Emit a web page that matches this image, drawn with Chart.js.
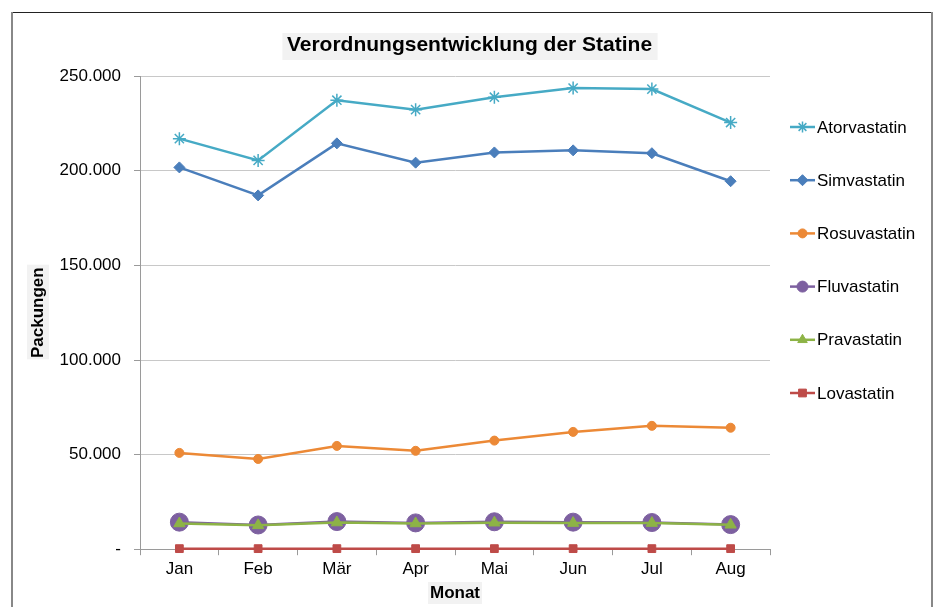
<!DOCTYPE html>
<html>
<head>
<meta charset="utf-8">
<script src="https://cdn.jsdelivr.net/npm/chart.js@4"></script>
<style>
  html, body { margin: 0; padding: 0; background: #fff; }
  #wrap { width: 939px; height: 607px; }
</style>
</head>
<body>
<div id="wrap"><canvas id="statine" width="939" height="607"></canvas></div>
<script>
const months = ['Jan', 'Feb', 'Mär', 'Apr', 'Mai', 'Jun', 'Jul', 'Aug'];
const atorvastatin = [217000, 205500, 237300, 232300, 238900, 243700, 243200, 225500];
const simvastatin = [201800, 187000, 214500, 204300, 209700, 210800, 209300, 194500];
const rosuvastatin = [50900, 47700, 54600, 52000, 57400, 62000, 65200, 64200];
const fluvastatin = [14300, 12800, 14600, 13900, 14500, 14300, 14100, 13000];
const pravastatin = [13600, 12600, 14100, 13600, 14000, 13800, 13800, 12900];
const lovastatin = [300, 300, 300, 300, 300, 300, 300, 300];
const yTicks = [0, 50000, 100000, 150000, 200000, 250000];
const yTickLabels = ['-', '50.000', '100.000', '150.000', '200.000', '250.000'];

const FONT = 'Arial, "Liberation Sans", sans-serif';

function series(label, data, color, style, radius, order) {
    return {
        label: label,
        data: data,
        borderColor: color,
        backgroundColor: color,
        pointBackgroundColor: color,
        pointBorderColor: color,
        pointStyle: style,
        pointRadius: radius,
        pointHoverRadius: radius,
        pointBorderWidth: style === 'star' ? 1.5 : 1,
        borderWidth: 2.5,
        tension: 0,
        clip: false,
        order: order
    };
}

// gray boxes behind title and axis titles, plus the outer frame
const decor = {
    id: 'decor',
    beforeDraw(chart) {
        const ctx = chart.ctx;
        ctx.save();
        ctx.fillStyle = '#fff';
        ctx.fillRect(0, 0, chart.width, chart.height);
        ctx.fillStyle = '#f2f2f2';
        ctx.font = 'bold 21px ' + FONT;
        let w = ctx.measureText(chart.options.plugins.title.text).width;
        ctx.fillRect(470 - w / 2 - 5, 33, w + 10, 27);
        ctx.font = 'bold 17px ' + FONT;
        w = ctx.measureText('Monat').width;
        ctx.fillRect(455 - w / 2 - 2, 582, w + 4, 22);
        w = ctx.measureText('Packungen').width;
        ctx.fillRect(27, 312 - w / 2 - 2, 22, w + 4);
        ctx.restore();
    },
    afterDraw(chart) {
        const ctx = chart.ctx;
        ctx.save();
        ctx.strokeStyle = '#222';
        ctx.lineWidth = 1;
        ctx.beginPath();
        ctx.moveTo(11, 12.5);
        ctx.lineTo(933, 12.5);
        ctx.stroke();
        ctx.strokeStyle = '#888';
        ctx.lineWidth = 2;
        ctx.beginPath();
        ctx.moveTo(12, 12);
        ctx.lineTo(12, 607);
        ctx.moveTo(932, 12);
        ctx.lineTo(932, 607);
        ctx.stroke();

        // legend: line with marker, then label
        ctx.font = '17px ' + FONT;
        ctx.textBaseline = 'middle';
        ctx.textAlign = 'left';
        chart.data.datasets.forEach((ds, i) => {
            const y = 127 + i * 53.2;
            ctx.strokeStyle = ds.borderColor;
            ctx.lineWidth = 2.5;
            ctx.beginPath();
            ctx.moveTo(790, y);
            ctx.lineTo(815, y);
            ctx.stroke();
            ctx.fillStyle = ds.pointBackgroundColor;
            ctx.strokeStyle = ds.pointBorderColor;
            ctx.lineWidth = ds.pointBorderWidth;
            Chart.helpers.drawPoint(ctx, {
                pointStyle: ds.pointStyle,
                radius: Math.min(ds.pointRadius, 5.5),
                rotation: 0,
                borderWidth: ds.pointBorderWidth
            }, 802.5, y);
            ctx.fillStyle = '#000';
            ctx.fillText(ds.label, 817, y + 1);
        });
        ctx.restore();
    }
};

new Chart(document.getElementById('statine').getContext('2d'), {
    type: 'line',
    data: {
        labels: months,
        datasets: [
            series('Atorvastatin', atorvastatin, '#46AAC5', 'star', 6.5, 6),
            series('Simvastatin', simvastatin, '#4A7EBB', 'rectRot', 5.5, 5),
            series('Rosuvastatin', rosuvastatin, '#EC8936', 'circle', 4.5, 4),
            series('Fluvastatin', fluvastatin, '#7D60A0', 'circle', 9, 3),
            series('Pravastatin', pravastatin, '#8DB346', 'triangle', 6.5, 2),
            series('Lovastatin', lovastatin, '#BE4B48', 'rect', 5.5, 1)
        ]
    },
    options: {
        responsive: false,
        animation: false,
        events: [],
        layout: { padding: { left: 20, right: 20, top: 12, bottom: 0 } },
        plugins: {
            legend: { display: false },
            tooltip: { enabled: false },
            title: {
                display: true,
                text: 'Verordnungsentwicklung der Statine',
                color: '#000',
                font: { family: FONT, size: 21, weight: 'bold' },
                padding: { top: 21, bottom: 18 }
            }
        },
        scales: {
            x: {
                offset: true,
                border: { color: '#9a9a9a', width: 1 },
                grid: { offset: true, drawOnChartArea: false, color: '#9a9a9a', tickLength: 6 },
                ticks: { color: '#000', font: { family: FONT, size: 17 }, padding: 4, maxRotation: 0 },
                title: {
                    display: true,
                    text: 'Monat',
                    color: '#000',
                    font: { family: FONT, size: 17, weight: 'bold' },
                    padding: { top: 0, bottom: 3 }
                }
            },
            y: {
                min: 0,
                max: 250000,
                afterFit(scale) { scale.width = 120; },
                afterBuildTicks(scale) { scale.ticks = yTicks.map(v => ({ value: v })); },
                border: { color: '#9a9a9a', width: 1 },
                grid: { color: '#c8c8c8', tickColor: '#9a9a9a', tickLength: 6 },
                ticks: {
                    color: '#000',
                    font: { family: FONT, size: 17 },
                    padding: 13,
                    callback: (v) => yTickLabels[yTicks.indexOf(v)]
                },
                title: {
                    display: true,
                    text: 'Packungen',
                    color: '#000',
                    font: { family: FONT, size: 17, weight: 'bold' },
                    padding: { top: 8, bottom: 0 }
                }
            },
            // empty right-hand scale that reserves room for the legend
            legendSpace: {
                type: 'linear',
                position: 'right',
                min: 0,
                max: 250000,
                afterFit(scale) { scale.width = 149; },
                border: { display: false },
                grid: { display: false },
                ticks: { display: false }
            }
        }
    },
    plugins: [decor]
});
</script>
</body>
</html>
